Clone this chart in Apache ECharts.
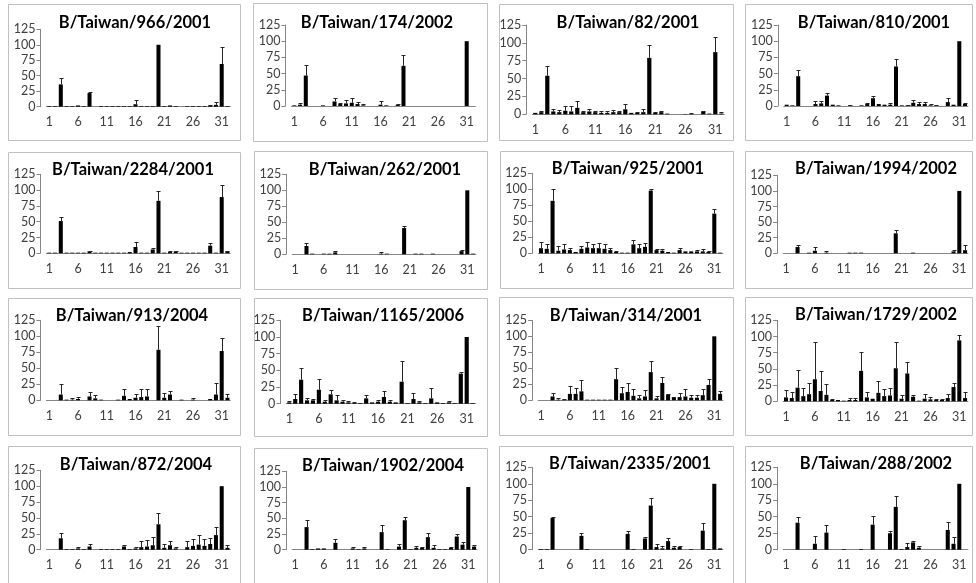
<!DOCTYPE html>
<html><head><meta charset="utf-8">
<script src="https://cdn.jsdelivr.net/npm/echarts@6/dist/echarts.min.js"></script>
<style>html,body{margin:0;padding:0;background:#fff}#c{width:976px;height:583px}</style>
</head><body><div id="c"></div>
<script>
const categories = ['1','2','3','4','5','6','7','8','9','10','11','12','13','14','15','16','17','18','19','20','21','22','23','24','25','26','27','28','29','30','31','32'];
const titles = ['B/Taiwan/966/2001','B/Taiwan/174/2002','B/Taiwan/82/2001','B/Taiwan/810/2001',
  'B/Taiwan/2284/2001','B/Taiwan/262/2001','B/Taiwan/925/2001','B/Taiwan/1994/2002',
  'B/Taiwan/913/2004','B/Taiwan/1165/2006','B/Taiwan/314/2001','B/Taiwan/1729/2002',
  'B/Taiwan/872/2004','B/Taiwan/1902/2004','B/Taiwan/2335/2001','B/Taiwan/288/2002'];
const yTicks = [0,25,50,75,100,125];

const v966 = [1,1,36,1,1,2,1,22,0,1,1,1,1,1,1,4,1,1,1,100,1,2,1,0,1,1,1,1,2,3,69,1];
const e966 = [0,0,10,0,0,0,0,2,0,0,0,0,0,0,0,7,0,0,0,0,0,0,0,0,0,0,0,0,1,4,27,0];
const v174 = [1,2,47,0,0,1,0,7,3,4,5,3,1,0,0,2,1,0,2,62,0,0,0,0,0,0,0,0,0,0,100,0];
const e174 = [0,2,17,0,0,0,0,5,1,5,8,3,2,0,0,6,0,0,1,17,0,0,0,0,0,0,0,0,0,0,0,0];
const v82 = [2,3,54,4,3,5,4,9,3,4,3,2,2,3,3,7,2,2,3,79,2,3,1,0,0,0.5,0.5,0,4,1,87,1];
const e82 = [0,1,13,4,3,7,7,9,1,4,2,2,2,3,2,7,0,1,4,18,1,1,0,0,0,0,1,0,1,0,21,2];
const v810 = [2,1,46,0,0,3,4,16,2,1,0,1,0,1,3,12,3,2,2,61,1,1,5,3,3,1,1,0,6,2,100,3];
const e810 = [0,0,10,0,0,4,4,4,0,0,0,1,0,0,2,3,0,0,2,11,0,1,5,3,3,2,1,0,6,0,0,2];
const v2284 = [1,1,51,1,1,1,1,3,1,1,1,1,1,1,2,10,1,1,6,83,1,2,3,1,1,1,1,1,12,1,89,3];
const e2284 = [0,0,7,0,0,0,0,1,0,0,0,0,0,0,0,8,0,0,2,16,0,1,1,0,0,0,0,0,4,0,19,1];
const v262 = [0,0,13,1,0,1,1,3,0,0,0,0,0,0,0,1,1,0,0,41,0,1,1,0,1,0,0,0,0,5,100,1];
const e262 = [0,0,5,0,0,0,0,2,0,0,0,0,0,0,0,2,0,0,0,3,0,0,0,0,0,0,0,0,0,2,0,0];
const v925 = [8,7,82,4,6,5,2,7,9,8,8,7,5,2,1,1,14,8,10,98,5,4,2,1,5,3,3,3,3,2,62,1];
const e925 = [10,8,18,7,8,3,0,4,9,7,8,8,3,2,0,0,7,7,6,3,2,3,0,0,3,0,0,2,3,2,7,0];
const v1994 = [0,0,10,0,1,4,0,1,0,0,0,1,1,1,0,0,0,0,0,32,0,0,1,0,0,0,0,0,0,3,100,5];
const e1994 = [0,0,4,0,0,6,0,2,0,0,0,0,0,0,0,0,0,0,0,5,0,0,0,0,0,0,0,0,0,3,0,8];
const v913 = [0,0,9,1,1,2,0,6,3,1,0,0,1,7,2,4,5,6,0,79,4,9,0,1,0,1,0,0,2,9,77,4];
const e913 = [0,0,16,0,3,3,0,7,6,0,0,0,0,10,0,6,12,12,0,37,7,6,0,0,0,2,0,0,0,18,21,6];
const v1165 = [2,7,36,5,5,21,3,14,5,3,2,1,1,8,2,3,10,3,2,33,1,7,2,1,8,2,1,2,1,45,100,1];
const e1165 = [2,8,18,4,2,16,3,7,8,3,2,1,0,5,0,2,9,2,0,31,0,9,2,0,15,0,0,2,0,2,0,0];
const v314 = [0,0,6,1,1,10,10,14,1,1,1,1,1,33,11,13,7,3,6,44,3,27,9,5,5,6,4,4,8,24,100,10];
const e314 = [0,0,5,2,1,12,9,17,0,0,0,0,0,17,10,14,10,5,10,18,3,9,1,0,7,11,4,5,10,9,0,4];
const v1729 = [6,5,21,8,11,34,16,10,2,2,1,2,2,47,6,4,13,8,9,51,4,43,7,1,4,3,2,2,5,22,94,5];
const e1729 = [11,10,27,12,18,57,30,16,2,0,0,3,3,29,9,0,18,11,11,40,5,17,2,0,7,4,2,1,7,7,9,10];
const v872 = [0,0,18,1,1,2,1,5,0,1,1,1,1,5,1,2,4,5,7,40,3,7,2,0,4,6,8,6,9,23,100,3];
const e872 = [0,0,8,0,0,3,0,4,0,0,0,0,0,3,0,2,9,10,13,18,6,6,2,0,10,11,15,11,9,12,0,4];
const v1902 = [0,0,36,1,2,2,0,11,0,0,2,1,2,0,0,28,1,0,5,47,1,3,3,20,3,1,1,3,21,8,100,5];
const e1902 = [0,0,12,0,0,0,0,6,0,0,2,0,2,0,0,11,0,0,4,5,0,3,2,6,5,0,0,2,4,4,0,3];
const v2335 = [1,1,48,0,0,0,0,21,1,0,0,0,0,0,0,24,1,0,17,67,4,2,13,3,4,0,1,0,29,1,100,2];
const e2335 = [0,0,2,0,0,0,0,5,0,0,0,0,0,0,0,4,0,0,3,12,5,3,4,2,1,0,0,0,11,0,0,0];
const v288 = [0,0,41,0,0,9,0,26,0,0,1,0,0,1,0,38,0,0,25,65,1,4,11,3,0,0,0,0,30,9,100,0];
const e288 = [0,0,9,0,0,12,0,12,0,0,0,0,0,0,0,13,0,0,3,17,0,6,2,3,0,0,0,0,12,11,0,0];

const values = [v966,v174,v82,v810,v2284,v262,v925,v1994,v913,v1165,v314,v1729,v872,v1902,v2335,v288];
const errors = [e966,e174,e82,e810,e2284,e262,e925,e1994,e913,e1165,e314,e1729,e872,e1902,e2335,e288];

// layout: [x of category 1 center, x of category 31 center, y of 125, y of 0]
const layout = [
  [49.3,221.7,29.3,106.7],[294.3,466.7,25,106],[535.3,715.3,25,114.3],[786.7,959.3,25,106],
  [49.3,221.7,174.3,253.3],[295,467.3,174.3,254.3],[541,714.3,173.3,253.3],[786,959.3,175.3,253.3],
  [49.3,221.7,320.3,400.3],[289.3,466.7,320.3,403.7],[541,714.3,320.3,400.3],[786,959.3,320.3,401.3],
  [49.3,221.7,470.3,549.7],[295,468.3,471.3,549.7],[541,714.3,467.3,549.7],[786,959.3,467.3,549.7]
];
const boxes = [
  [8,4,232,136],[253,3,234,138],[499,4,234,136],[745,4,227,136],
  [8,152,232,136],[254,151,233,138],[500,151,233,137],[745,151,227,137],
  [8,298,232,137],[254,298,233,138],[499,297,234,138],[745,297,227,138],
  [8,446,232,160],[254,448,233,160],[499,446,234,160],[745,446,227,160]
];
const titlePos = [
  [135,23],[377,23],[628,23],[874,23],
  [133,170],[385,170],[628,169],[876,169],
  [132,316],[383,316],[626,316],[876,315],
  [136,465],[383,466],[630,464],[876,464]
];

function errRender(params, api) {
  const e = api.value(2);
  if (!(e > 0)) return null;
  const i = api.value(0), v = api.value(1);
  const b = api.coord([i, v]);
  const t = api.coord([i, v + e]);
  const x = Math.round(b[0]) + 0.5;
  const yt = Math.round(t[1]) + 0.5;
  const st = {stroke:'#262626', lineWidth:1};
  return {type:'group', children:[
    {type:'line', shape:{x1:x, y1:b[1], x2:x, y2:yt}, style:st},
    {type:'line', shape:{x1:x-2, y1:yt, x2:x+2, y2:yt}, style:st}
  ]};
}

const grids=[], xAxes=[], yAxes=[], series=[], graphics=[];
const lab = {color:'#404040', fontFamily:'Lato', fontSize:12.5};
values.forEach((v,i)=>{
  const L = layout[i];
  const sp = (L[1]-L[0])/30;
  grids.push({left:L[0]-sp/2, top:L[2], width:sp*32, height:L[3]-L[2]});
  xAxes.push({type:'category', gridIndex:i, data:categories, boundaryGap:true,
    axisTick:{show:false}, axisLine:{lineStyle:{color:'#868686', width:1}},
    axisLabel:Object.assign({interval:4, margin:9}, lab)});
  yAxes.push({type:'value', gridIndex:i, min:yTicks[0], max:yTicks[yTicks.length-1], interval:25, offset:6,
    splitLine:{show:false}, axisLine:{show:true, lineStyle:{color:'#868686', width:1}},
    axisTick:{show:true, length:4, lineStyle:{color:'#868686'}},
    axisLabel:Object.assign({margin:5}, lab)});
  series.push({type:'bar', xAxisIndex:i, yAxisIndex:i, data:v, barWidth:'70%',
    itemStyle:{color:'#000'}, silent:true});
  series.push({type:'custom', xAxisIndex:i, yAxisIndex:i, z:3, silent:true,
    data:v.map((val,j)=>[j,val,errors[i][j]]), encode:{x:0,y:1}, renderItem:errRender});
  const bx = boxes[i];
  graphics.push({type:'rect', silent:true, z:-1, shape:{x:bx[0]+0.5, y:bx[1]+0.5, width:bx[2], height:bx[3]},
    style:{fill:'#fff', stroke:'#c0c0c0', lineWidth:1}});
  graphics.push({type:'text', silent:true, z:10, x:titlePos[i][0], y:titlePos[i][1],
    style:{text:titles[i], fill:'#000', font:'bold 16.5px Lato', textAlign:'center', textVerticalAlign:'middle'}});
});

const chart = echarts.init(document.getElementById('c'));
chart.setOption({animation:false, grid:grids, xAxis:xAxes, yAxis:yAxes, series:series, graphic:graphics});
</script></body></html>
